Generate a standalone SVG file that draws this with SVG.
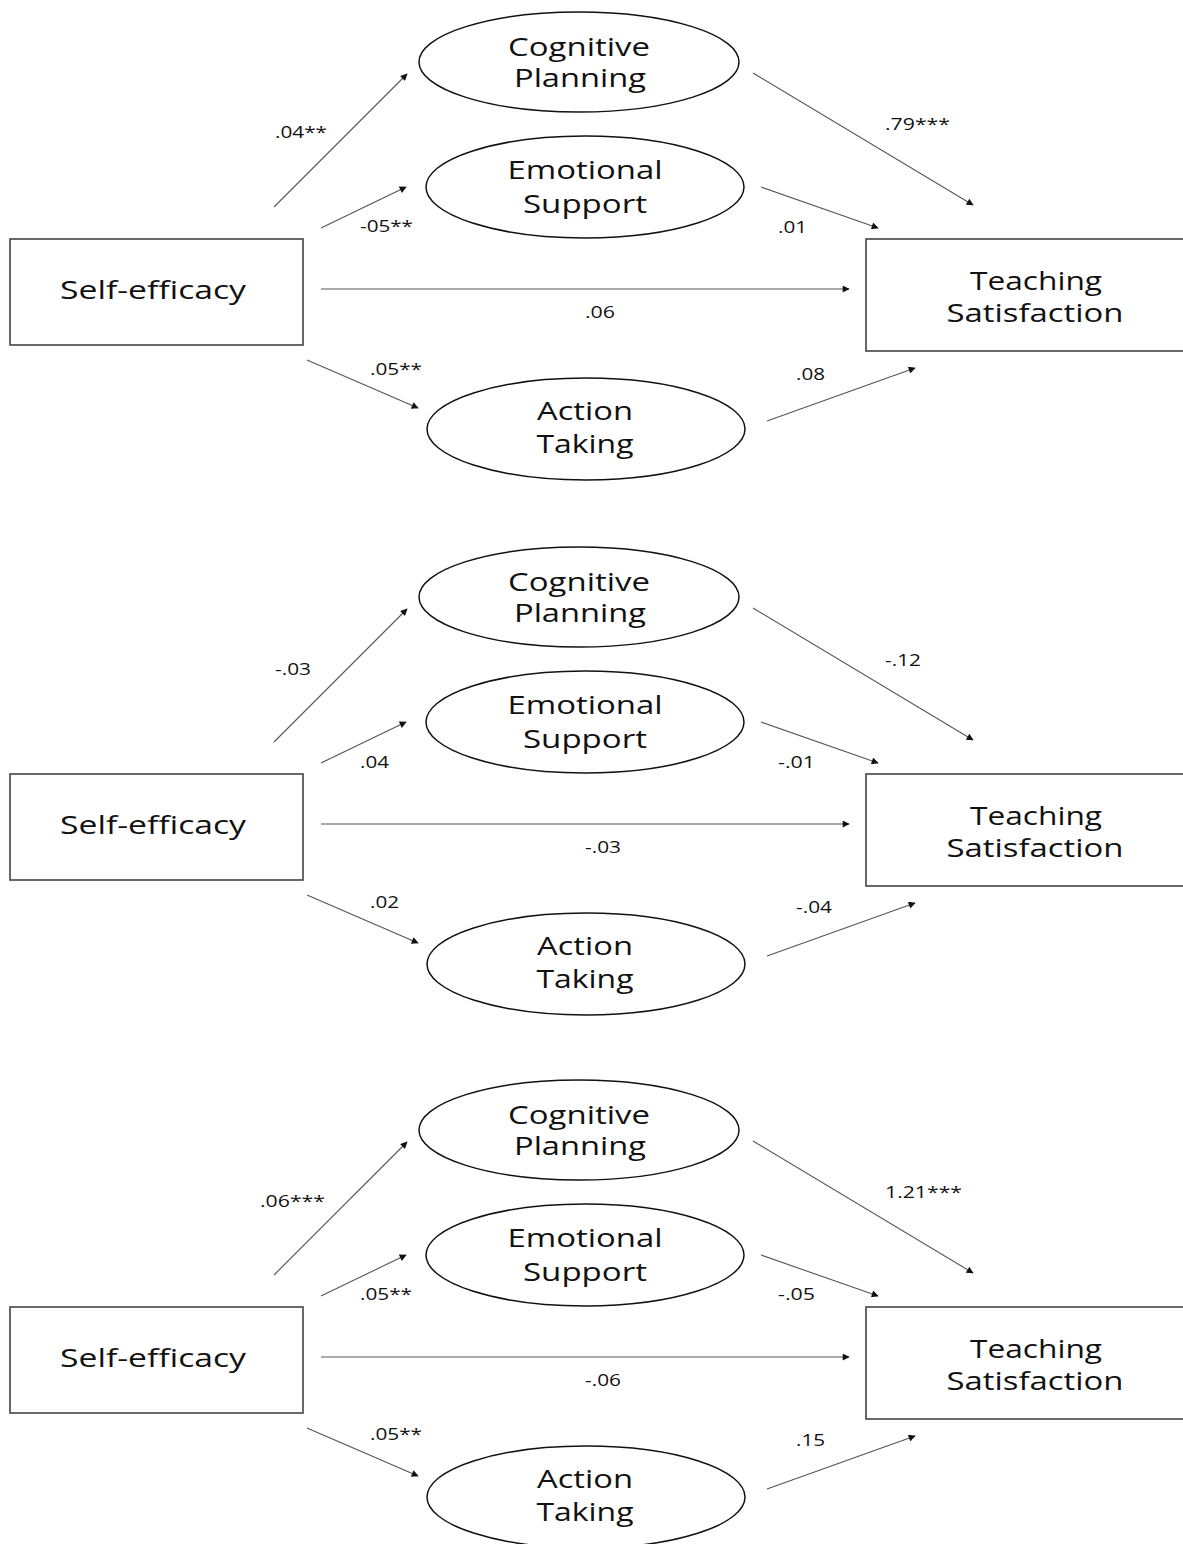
<svg xmlns="http://www.w3.org/2000/svg" width="1183" height="1544" viewBox="0 0 1183 1544">
<style>
.box{fill:#fff;stroke:#444;stroke-width:1.6}
.ell{fill:#fff;stroke:#111;stroke-width:1.5}
.node{font-family:"Open Sans","Liberation Sans",sans-serif;font-size:25px;fill:#111;text-anchor:middle}
.lab{font-family:"Open Sans","Liberation Sans",sans-serif;font-size:16px;fill:#111}
.con line{stroke:#555;stroke-width:1.1;marker-end:url(#ah)}
</style>
<defs>
<marker id="ah" viewBox="0 0 10 10" refX="9" refY="5" markerWidth="9" markerHeight="7" markerUnits="userSpaceOnUse" orient="auto">
<path d="M0,0 L10,5 L0,10 z" fill="#111"/>
</marker>
</defs>
<rect width="1183" height="1544" fill="#fff"/>

<!-- Panel 1 -->
<g id="panel1">
<g class="con" id="p1-connectors">
<line x1="274" y1="207" x2="407" y2="74"/>
<line x1="321" y1="228" x2="406" y2="187"/>
<line x1="753" y1="73" x2="973" y2="205"/>
<line x1="761" y1="187" x2="878" y2="228"/>
<line x1="321" y1="289" x2="849" y2="289"/>
<line x1="307" y1="360" x2="418" y2="408"/>
<line x1="767" y1="421" x2="915" y2="368"/>
</g>
<g id="p1-self"><rect class="box" x="10" y="239" width="293" height="106"/><text class="node" x="153" y="299" textLength="186" lengthAdjust="spacingAndGlyphs">Self-efficacy</text></g>
<g id="p1-teach"><rect class="box" x="866" y="239" width="318" height="112"/><text class="node" x="1036" y="290" textLength="132" lengthAdjust="spacingAndGlyphs">Teaching</text><text class="node" x="1035" y="322" textLength="177" lengthAdjust="spacingAndGlyphs">Satisfaction</text></g>
<g id="p1-cog"><ellipse class="ell" cx="579" cy="62" rx="160" ry="50"/><text class="node" x="579" y="56" textLength="142" lengthAdjust="spacingAndGlyphs">Cognitive</text><text class="node" x="580" y="87" textLength="132" lengthAdjust="spacingAndGlyphs">Planning</text></g>
<g id="p1-emo"><ellipse class="ell" cx="585" cy="187" rx="159" ry="51"/><text class="node" x="585" y="179" textLength="155" lengthAdjust="spacingAndGlyphs">Emotional</text><text class="node" x="585" y="213" textLength="124" lengthAdjust="spacingAndGlyphs">Support</text></g>
<g id="p1-act"><ellipse class="ell" cx="586" cy="429" rx="159" ry="51"/><text class="node" x="585" y="420" textLength="96" lengthAdjust="spacingAndGlyphs">Action</text><text class="node" x="585" y="453" textLength="97" lengthAdjust="spacingAndGlyphs">Taking</text></g>
<g id="p1-labels">
<text class="lab" x="275" y="138" textLength="52" lengthAdjust="spacingAndGlyphs">.04**</text>
<text class="lab" x="360" y="232" textLength="53" lengthAdjust="spacingAndGlyphs">-05**</text>
<text class="lab" x="885" y="130" textLength="65" lengthAdjust="spacingAndGlyphs">.79***</text>
<text class="lab" x="778" y="233" textLength="29" lengthAdjust="spacingAndGlyphs">.01</text>
<text class="lab" x="585" y="318" textLength="30" lengthAdjust="spacingAndGlyphs">.06</text>
<text class="lab" x="370" y="375" textLength="52" lengthAdjust="spacingAndGlyphs">.05**</text>
<text class="lab" x="796" y="380" textLength="29" lengthAdjust="spacingAndGlyphs">.08</text>
</g>
</g>

<!-- Panel 2 -->
<g id="panel2" transform="translate(0,535)">
<g class="con" id="p2-connectors">
<line x1="274" y1="207" x2="407" y2="74"/>
<line x1="321" y1="228" x2="406" y2="187"/>
<line x1="753" y1="73" x2="973" y2="205"/>
<line x1="761" y1="187" x2="878" y2="228"/>
<line x1="321" y1="289" x2="849" y2="289"/>
<line x1="307" y1="360" x2="418" y2="408"/>
<line x1="767" y1="421" x2="915" y2="368"/>
</g>
<g id="p2-self"><rect class="box" x="10" y="239" width="293" height="106"/><text class="node" x="153" y="299" textLength="186" lengthAdjust="spacingAndGlyphs">Self-efficacy</text></g>
<g id="p2-teach"><rect class="box" x="866" y="239" width="318" height="112"/><text class="node" x="1036" y="290" textLength="132" lengthAdjust="spacingAndGlyphs">Teaching</text><text class="node" x="1035" y="322" textLength="177" lengthAdjust="spacingAndGlyphs">Satisfaction</text></g>
<g id="p2-cog"><ellipse class="ell" cx="579" cy="62" rx="160" ry="50"/><text class="node" x="579" y="56" textLength="142" lengthAdjust="spacingAndGlyphs">Cognitive</text><text class="node" x="580" y="87" textLength="132" lengthAdjust="spacingAndGlyphs">Planning</text></g>
<g id="p2-emo"><ellipse class="ell" cx="585" cy="187" rx="159" ry="51"/><text class="node" x="585" y="179" textLength="155" lengthAdjust="spacingAndGlyphs">Emotional</text><text class="node" x="585" y="213" textLength="124" lengthAdjust="spacingAndGlyphs">Support</text></g>
<g id="p2-act"><ellipse class="ell" cx="586" cy="429" rx="159" ry="51"/><text class="node" x="585" y="420" textLength="96" lengthAdjust="spacingAndGlyphs">Action</text><text class="node" x="585" y="453" textLength="97" lengthAdjust="spacingAndGlyphs">Taking</text></g>
<g id="p2-labels">
<text class="lab" x="275" y="140" textLength="36" lengthAdjust="spacingAndGlyphs">-.03</text>
<text class="lab" x="360" y="233" textLength="29" lengthAdjust="spacingAndGlyphs">.04</text>
<text class="lab" x="885" y="131" textLength="36" lengthAdjust="spacingAndGlyphs">-.12</text>
<text class="lab" x="778" y="233" textLength="37" lengthAdjust="spacingAndGlyphs">-.01</text>
<text class="lab" x="585" y="318" textLength="36" lengthAdjust="spacingAndGlyphs">-.03</text>
<text class="lab" x="370" y="373" textLength="29" lengthAdjust="spacingAndGlyphs">.02</text>
<text class="lab" x="796" y="378" textLength="36" lengthAdjust="spacingAndGlyphs">-.04</text>
</g>
</g>

<!-- Panel 3 -->
<g id="panel3" transform="translate(0,1068)">
<g class="con" id="p3-connectors">
<line x1="274" y1="207" x2="407" y2="74"/>
<line x1="321" y1="228" x2="406" y2="187"/>
<line x1="753" y1="73" x2="973" y2="205"/>
<line x1="761" y1="187" x2="878" y2="228"/>
<line x1="321" y1="289" x2="849" y2="289"/>
<line x1="307" y1="360" x2="418" y2="408"/>
<line x1="767" y1="421" x2="915" y2="368"/>
</g>
<g id="p3-self"><rect class="box" x="10" y="239" width="293" height="106"/><text class="node" x="153" y="299" textLength="186" lengthAdjust="spacingAndGlyphs">Self-efficacy</text></g>
<g id="p3-teach"><rect class="box" x="866" y="239" width="318" height="112"/><text class="node" x="1036" y="290" textLength="132" lengthAdjust="spacingAndGlyphs">Teaching</text><text class="node" x="1035" y="322" textLength="177" lengthAdjust="spacingAndGlyphs">Satisfaction</text></g>
<g id="p3-cog"><ellipse class="ell" cx="579" cy="62" rx="160" ry="50"/><text class="node" x="579" y="56" textLength="142" lengthAdjust="spacingAndGlyphs">Cognitive</text><text class="node" x="580" y="87" textLength="132" lengthAdjust="spacingAndGlyphs">Planning</text></g>
<g id="p3-emo"><ellipse class="ell" cx="585" cy="187" rx="159" ry="51"/><text class="node" x="585" y="179" textLength="155" lengthAdjust="spacingAndGlyphs">Emotional</text><text class="node" x="585" y="213" textLength="124" lengthAdjust="spacingAndGlyphs">Support</text></g>
<g id="p3-act"><ellipse class="ell" cx="586" cy="429" rx="159" ry="51"/><text class="node" x="585" y="420" textLength="96" lengthAdjust="spacingAndGlyphs">Action</text><text class="node" x="585" y="453" textLength="97" lengthAdjust="spacingAndGlyphs">Taking</text></g>
<g id="p3-labels">
<text class="lab" x="260" y="139" textLength="65" lengthAdjust="spacingAndGlyphs">.06***</text>
<text class="lab" x="360" y="232" textLength="52" lengthAdjust="spacingAndGlyphs">.05**</text>
<text class="lab" x="885" y="130" textLength="77" lengthAdjust="spacingAndGlyphs">1.21***</text>
<text class="lab" x="778" y="232" textLength="37" lengthAdjust="spacingAndGlyphs">-.05</text>
<text class="lab" x="585" y="318" textLength="36" lengthAdjust="spacingAndGlyphs">-.06</text>
<text class="lab" x="370" y="372" textLength="52" lengthAdjust="spacingAndGlyphs">.05**</text>
<text class="lab" x="796" y="378" textLength="29" lengthAdjust="spacingAndGlyphs">.15</text>
</g>
</g>
</svg>
